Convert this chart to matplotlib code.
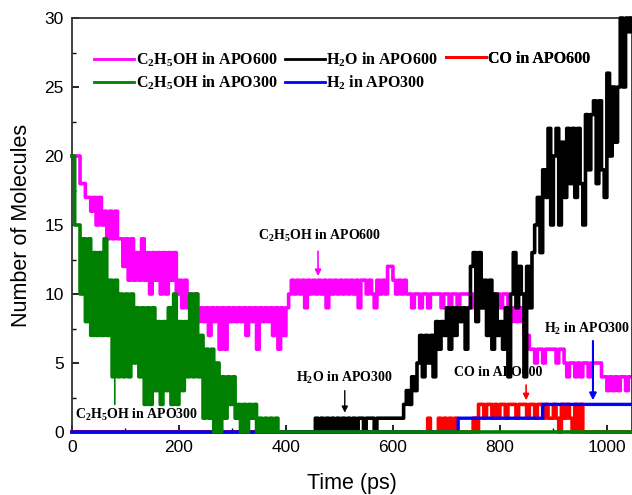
import matplotlib
matplotlib.use('Agg')
import matplotlib.pyplot as plt
import numpy as np

plt.rcParams['mathtext.fontset'] = 'custom'
plt.rcParams['mathtext.rm'] = 'Liberation Serif:bold'
plt.rcParams['mathtext.it'] = 'Liberation Serif:bold'
plt.rcParams['mathtext.bf'] = 'Liberation Serif:bold'
plt.rcParams['mathtext.default'] = 'rm'
plt.rcParams['path.simplify'] = False

dt = 5  # ps between samples, 0 .. 1045 ps

etoh_apo600 = [
    20, 20, 20, 18, 18, 17, 17, 16, 17, 15, 17, 15, 16, 14, 16, 14, 16, 14, 14, 12,
    14, 11, 14, 11, 13, 11, 14, 11, 13, 10, 13, 11, 13, 10, 13, 10, 13, 11, 13, 10,
    11, 9, 11, 9, 10, 9, 10, 8, 9, 8, 9, 7, 9, 8, 9, 6, 9, 6, 9, 8,
    9, 8, 9, 8, 9, 7, 9, 8, 9, 6, 9, 8, 9, 8, 9, 7, 9, 6, 9, 7,
    9, 10, 11, 10, 11, 10, 11, 9, 11, 10, 11, 10, 11, 10, 11, 9, 11, 10, 11, 10,
    11, 10, 11, 10, 11, 10, 11, 9, 11, 11, 10, 11, 10, 9, 11, 10, 11, 10, 12, 12,
    11, 10, 11, 10, 11, 10, 10, 9, 10, 10, 9, 10, 10, 9, 10, 10, 10, 10, 9, 10,
    10, 9, 10, 10, 9, 10, 10, 10, 10, 9, 10, 10, 10, 9, 10, 9, 10, 10, 9, 10,
    9, 10, 10, 9, 8, 9, 8, 9, 8, 7, 7, 6, 6, 5, 6, 6, 5, 6, 6, 6,
    6, 5, 6, 6, 5, 4, 5, 5, 4, 5, 4, 5, 5, 4, 5, 5, 5, 5, 4, 4,
    3, 4, 3, 4, 3, 4, 4, 3, 4, 4,
]

etoh_apo300 = [
    20, 15, 15, 10, 14, 8, 14, 7, 13, 7, 13, 7, 14, 7, 11, 4, 11, 4, 10, 4,
    10, 4, 10, 5, 9, 4, 9, 2, 9, 2, 9, 3, 8, 2, 8, 3, 9, 2, 10, 2,
    8, 3, 8, 4, 10, 4, 10, 4, 7, 1, 6, 1, 6, 0, 5, 0, 4, 1, 4, 2,
    4, 1, 2, 0, 2, 0, 2, 1, 2, 0, 1, 0, 1, 0, 1, 0, 1, 0, 0, 0,
] + [0] * 130

h2o_apo600 = [0] * 90 + [
    0, 1, 0, 1, 0, 1, 0, 1, 0, 1, 0, 1, 0, 1, 0, 1, 0, 1, 1, 0,
    1, 1, 1, 0, 1, 1, 1, 1, 1, 1, 1, 1, 1, 1, 2, 3, 2, 4, 3, 5,
    7, 4, 7, 5, 7, 4, 8, 6, 8, 7, 9, 6, 9, 7, 9, 8, 9, 6, 9, 12,
    13, 8, 13, 9, 11, 7, 11, 6, 10, 7, 8, 6, 9, 4, 10, 13, 9, 12, 10, 4,
    12, 9, 13, 15, 17, 13, 19, 17, 22, 15, 20, 22, 15, 21, 17, 22, 18, 22, 17, 22,
    18, 15, 23, 19, 23, 24, 18, 24, 19, 17, 26, 20, 25, 21, 25, 30, 25, 30, 29, 30,
]

co_apo600 = [0] * 133 + [
    1, 0, 0, 0, 1, 0, 1, 0, 1, 0, 1, 0, 0, 0, 0, 0, 0, 1, 0,
    2, 2, 1, 2, 2, 1, 2, 1, 2, 2, 1, 2, 2, 2, 1, 2, 2, 2, 1, 2,
    2, 1, 2, 2, 1, 2, 1, 1, 2, 1, 0, 2, 1, 2, 1, 0, 2, 0, 2, 0,
] + [0] * 18

h2_times = [0, 722, 880, 1045]
h2_apo300 = [0, 1, 2, 2]

t = np.arange(len(etoh_apo600)) * dt

fig = plt.figure(figsize=(6.32, 4.95), dpi=100)
ax = fig.add_axes([72 / 632, 63 / 495, 560 / 632, 414 / 495])

lw = 2.6
style = dict(drawstyle='steps-post', clip_on=False, snap=False)
l_m, = ax.plot(t, etoh_apo600, color='#ff00ff', lw=lw, zorder=2,
               label=r'C$_2$H$_5$OH in APO600', **style)
l_k, = ax.plot(t, h2o_apo600, color='black', lw=lw, zorder=3,
               label=r'H$_2$O in APO600', **style)
l_r, = ax.plot(t, co_apo600, color='#ff0000', lw=lw, zorder=4,
               label='CO in APO600', **style)
l_b, = ax.plot(h2_times, h2_apo300, color='#0000ff', lw=2.4, zorder=5,
               label=r'H$_2$ in APO300', **style)
l_g, = ax.plot(t, etoh_apo300, color='#008000', lw=lw, zorder=6,
               label=r'C$_2$H$_5$OH in APO300', **style)

ax.set_xlim(0, 1047)
ax.set_ylim(0, 30)
ax.set_xticks(np.arange(0, 1001, 200))
ax.set_xticks(np.arange(100, 1001, 200), minor=True)
ax.set_yticks(np.arange(0, 31, 5))
ax.set_yticks(np.arange(2.5, 30, 5), minor=True)
ax.tick_params(which='both', direction='in', top=False, right=False)
ax.tick_params(which='major', length=5, width=1.2, pad=6, labelsize=12.5)
ax.tick_params(which='minor', length=3, width=1.0)
for lab in ax.get_xticklabels() + ax.get_yticklabels():
    lab.set_family('Liberation Sans')
for sp in ax.spines.values():
    sp.set_linewidth(1.3)
    sp.set_color('#333333')

ax.set_xlabel('Time (ps)', family='Liberation Sans', fontsize=15.5)
ax.set_ylabel('Number of Molecules', family='Liberation Sans', fontsize=15.5)
ax.xaxis.set_label_coords(0.5, -0.1)
ax.yaxis.set_label_coords(-0.071, 0.5)

# legend as three separate columns
legfont = {'family': 'Liberation Serif', 'weight': 'bold', 'size': 11.5}
cols = [([l_m, l_g], 0.04), ([l_k, l_b], 0.38), ([l_r], 0.668)]
for handles, xa in cols:
    leg = ax.legend(handles=handles, loc='upper left', bbox_to_anchor=(xa, 0.921),
                    frameon=False, prop=legfont, handlelength=2.5, handletextpad=0.1,
                    labelspacing=0.3, borderpad=0, borderaxespad=0)
    for ln in leg.get_lines():
        ln.set_linewidth(2)
    ax.add_artist(leg)

# annotations
afont = dict(family='Liberation Serif', weight='bold', fontsize=10, ha='center', va='center')
ax.text(463, 14.2, r'C$_2$H$_5$OH in APO600', zorder=7, **afont)
ax.annotate('', xy=(460, 11.1), xytext=(460, 13.3), zorder=7,
            arrowprops=dict(arrowstyle='-|>', color='#ff00ff', lw=1.2, mutation_scale=9))
ax.text(510, 3.9, r'H$_2$O in APO300', zorder=7, **afont)
ax.annotate('', xy=(510, 1.2), xytext=(510, 3.2), zorder=7,
            arrowprops=dict(arrowstyle='-|>', color='black', lw=1.0, mutation_scale=9))
ax.text(5, 1.25, r'C$_2$H$_5$OH in APO300', zorder=7,
        **{**afont, 'ha': 'left'})
ax.annotate('', xy=(80, 4.7), xytext=(80, 1.8), zorder=7,
            arrowprops=dict(arrowstyle='-|>', color='#008000', lw=1.2, mutation_scale=9))
ax.text(796, 4.3, 'CO in APO600', zorder=3.5, **afont)
ax.annotate('', xy=(849, 2.1), xytext=(849, 3.6), zorder=7,
            arrowprops=dict(arrowstyle='-|>', color='#ff0000', lw=1.2, mutation_scale=9))
ax.text(963, 7.5, r'H$_2$ in APO300', zorder=7, **afont)
ax.annotate('', xy=(974, 2.1), xytext=(974, 6.8), zorder=7,
            arrowprops=dict(arrowstyle='-|>', color='#0000ff', lw=1.5, mutation_scale=10))

fig.savefig('out.png', dpi=100)
